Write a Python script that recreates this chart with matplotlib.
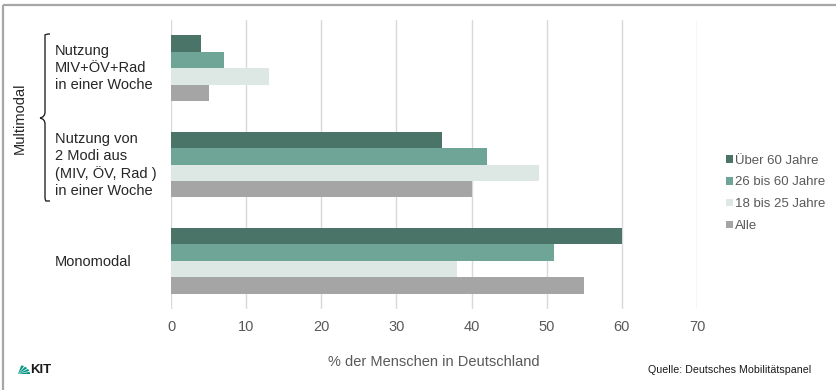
import numpy as np
import matplotlib
matplotlib.use("Agg")
import matplotlib.pyplot as plt
from matplotlib.patches import PathPatch, Polygon
from matplotlib.path import Path

plt.rcParams["font.family"] = ["Liberation Sans", "DejaVu Sans"]

categories = [
    "Nutzung\nMIV+ÖV+Rad\nin einer Woche",
    "Nutzung von\n2 Modi aus\n(MIV, ÖV, Rad )\nin einer Woche",
    "Monomodal",
]
series_names = ["Über 60 Jahre", "26 bis 60 Jahre", "18 bis 25 Jahre", "Alle"]
values = {
    "Über 60 Jahre": [4, 36, 60],
    "26 bis 60 Jahre": [7, 42, 51],
    "18 bis 25 Jahre": [13, 49, 38],
    "Alle": [5, 40, 55],
}
colors = ["#4a7467", "#6fa597", "#dde8e5", "#a5a5a5"]
x_ticks = [0, 10, 20, 30, 40, 50, 60, 70]

W, H = 837, 390
fig = plt.figure(figsize=(W / 100, H / 100), dpi=100)
fig.patch.set_facecolor("white")

# main bar axes
ax = fig.add_axes([171 / W, 1 - 309 / H, (697 - 171) / W, (309 - 20) / H])
bh = 0.171
y = np.arange(len(categories))
for i, name in enumerate(series_names):
    ax.barh(y + (i - 1.5) * bh, values[name], height=bh, color=colors[i],
            label=name, zorder=3)

ax.set_xlim(0, 70)
ax.set_ylim(2.5, -0.5)
ax.set_xticks(x_ticks)
ax.set_yticks([])
ax.grid(axis="x", color="#d9d9d9", lw=1.0, zorder=0)
for s in ax.spines.values():
    s.set_visible(False)
ax.tick_params(axis="x", length=0, pad=8, labelsize=10.5, labelcolor="#595959")
ax.set_xlabel("% der Menschen in Deutschland", fontsize=10.5, color="#595959",
              labelpad=15)

leg = ax.legend(loc="center left", bbox_to_anchor=(1.045, 0.40), frameon=False,
                fontsize=9.5, labelcolor="#595959", handlelength=0.5,
                handleheight=0.5, handletextpad=0.15, labelspacing=0.75,
                borderaxespad=0)

# overlay in pixel coordinates for labels and decorations
ov = fig.add_axes([0, 0, 1, 1], facecolor="none")
ov.set_xlim(0, W)
ov.set_ylim(H, 0)
ov.axis("off")

for cat, cy in zip(categories, [68, 165, 262]):
    ov.text(55, cy, cat, ha="left", va="center", fontsize=10.5, color="#262626",
            linespacing=1.25)

# curly brace for the multimodal group
x0, x1, top, tip, bot = 50, 45, 34, 118, 201
verts = [(x0, top), (x1 + 1, top), (x1, top + 1), (x1, top + 4),
         (x1, tip - 6), (x1, tip - 1), (x1 - 5, tip), (x1 - 5, tip),
         (x1, tip + 1), (x1, tip + 6),
         (x1, bot - 4), (x1, bot - 1), (x1 + 1, bot), (x0, bot)]
codes = [Path.MOVETO, Path.CURVE3, Path.CURVE3, Path.LINETO,
         Path.LINETO, Path.CURVE3, Path.CURVE3, Path.MOVETO,
         Path.CURVE3, Path.CURVE3,
         Path.LINETO, Path.CURVE3, Path.CURVE3, Path.LINETO]
ov.add_patch(PathPatch(Path(verts, codes), fill=False, lw=1.0, ec="#262626"))
ov.text(20, 118, "Multimodal", rotation=90, ha="center", va="center",
        fontsize=10.5, color="#262626")

# frame lines
ov.plot([3, W], [5, 5], color="#a6a6a6", lw=1.6, solid_capstyle="butt")
ov.plot([3, 3], [5, H], color="#a6a6a6", lw=1.6, solid_capstyle="butt")

# logo
ox, oy = 18, 374
for a0, a1 in [(0, 14), (20, 34), (40, 54), (60, 74)]:
    r = 12
    t = np.radians(np.linspace(a0, a1, 6))
    pts = [(ox, oy)] + [(ox + r * np.cos(tt), oy - r * np.sin(tt) * 0.75) for tt in t]
    ov.add_patch(Polygon(pts, closed=True, color="#009682", lw=0))
ov.text(30, 370, "KIT", ha="left", va="center", fontsize=9.5,
        fontweight="bold", color="#1a1a1a")

ov.text(648, 370, "Quelle: Deutsches Mobilitätspanel", ha="left", va="center",
        fontsize=7.7, color="#1a1a1a")

fig.savefig("out.png", dpi=100, facecolor=fig.get_facecolor())
